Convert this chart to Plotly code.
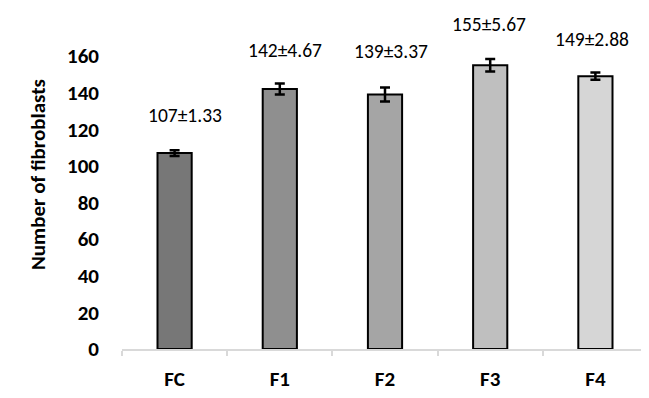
import plotly.graph_objects as go

categories = ["FC", "F1", "F2", "F3", "F4"]
means = [107, 142, 139, 155, 149]
err_visual = [1.6, 3.0, 3.8, 3.4, 2.0]
labels = ["107±1.33", "142±4.67", "139±3.37", "155±5.67", "149±2.88"]
label_y = [127.7, 163.2, 162.7, 177.4, 169.4]
label_xshift = [10, 5, 6, -1, -3]
bar_colors = ["#777777", "#8f8f8f", "#a5a5a5", "#bfbfbf", "#d6d6d6"]
y_ticks = [0, 20, 40, 60, 80, 100, 120, 140, 160]
Y_MAX = 160

FONT = "Calibri, Carlito, 'Liberation Sans', Arial, sans-serif"

fig = go.Figure()
fig.add_trace(go.Bar(
    x=categories, y=means, width=0.325,
    marker=dict(color=bar_colors, line=dict(color="black", width=2)),
    error_y=dict(type="data", array=err_visual, visible=True,
                 color="black", thickness=2.5, width=5),
    showlegend=False, hoverinfo="skip",
))

for c, lab, ly, xs in zip(categories, labels, label_y, label_xshift):
    fig.add_annotation(x=c, y=ly / Y_MAX, text=lab, showarrow=False, xshift=xs,
                       xref="x", yref="y domain", yanchor="middle",
                       font=dict(family=FONT, size=19.5, color="black"))

fig.add_annotation(xref="paper", yref="paper", x=(38 - 122) / 526, y=(349 - 175) / 293,
                   text="<b>Number of fibroblasts</b>", textangle=-90, showarrow=False,
                   xanchor="center", yanchor="middle",
                   font=dict(family=FONT, size=21, color="black"))

# page body has an 8px default margin, so the figure is sized/margined to compensate
fig.update_layout(
    width=641, height=390,
    margin=dict(l=114, r=1, t=48, b=49),
    paper_bgcolor="white", plot_bgcolor="white",
    bargap=0.675,
    xaxis=dict(
        showline=True, linecolor="#d9d9d9", linewidth=1.5,
        ticks="outside", tickson="boundaries", ticklen=5, tickcolor="#d9d9d9", tickwidth=1.5,
        tickfont=dict(family=FONT, size=21, color="black", weight="bold"),
        ticklabelstandoff=10, showgrid=False, zeroline=False, automargin=False,
    ),
    yaxis=dict(
        range=[0, Y_MAX], tickvals=y_ticks, showline=False, showgrid=False, zeroline=False,
        ticks="", tickfont=dict(family=FONT, size=21, color="black", weight="bold"),
        ticklabelstandoff=22, automargin=False,
    ),
)

fig.write_html("out.html")
